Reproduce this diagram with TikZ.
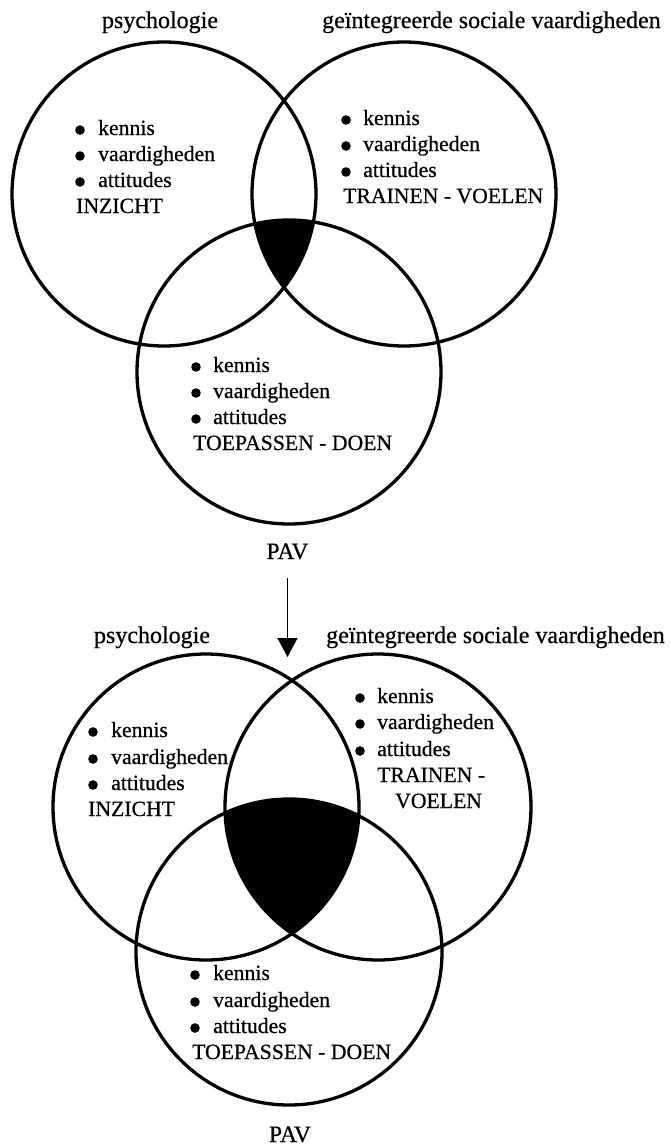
\documentclass[tikz,border=0pt]{standalone}
\usepackage{fontspec}
\setmainfont{Liberation Serif}[FakeBold=0.6]
\usetikzlibrary{arrows.meta}
\begin{document}
\begin{tikzpicture}[x=1pt,y=-1pt,
  ring/.style={line width=3.3pt},
  itemtext/.style={anchor=base west, inner sep=0pt, font=\fontsize{21.7}{26}\selectfont},
  headtext/.style={anchor=base, inner sep=0pt, font=\fontsize{24}{28}\selectfont},
  headleft/.style={anchor=base west, inner sep=0pt, font=\fontsize{24}{28}\selectfont},
  pavtext/.style={anchor=base, inner sep=0pt, font=\fontsize{23.5}{28}\selectfont},
  bulletdot/.style={fill=black},
  flowarrow/.style={line width=1.4pt, -{Triangle[width=20pt,length=19pt]}}
]
\useasboundingbox (0,0) rectangle (670,1146);

% ---------- top diagram ----------
\coordinate (cL1) at (164,194);
\coordinate (cR1) at (404,194);
\coordinate (cB1) at (289,372);
\begin{scope}
  \clip (cL1) circle (152pt);
  \clip (cR1) circle (152pt);
  \fill (cB1) circle (152pt);
\end{scope}
\draw[ring] (cL1) circle (152pt);
\draw[ring] (cR1) circle (152pt);
\draw[ring] (cB1) circle (152pt);

\node[headtext] (h1a) at (160,28) {psychologie};
\node[headleft] (h1b) at (322,28) {geïntegreerde sociale vaardigheden};

% left
\fill[bulletdot] (80,130) circle (4.8pt);
\fill[bulletdot] (80,156) circle (4.8pt);
\fill[bulletdot] (80,182) circle (4.8pt);
\node[itemtext] (l1a) at (98,135) {kennis};
\node[itemtext] (l1b) at (98,161) {vaardigheden};
\node[itemtext] (l1c) at (98,187) {attitudes};
\node[itemtext] (l1d) at (76,213) {INZICHT};
% right
\fill[bulletdot] (346,120) circle (4.8pt);
\fill[bulletdot] (346,146) circle (4.8pt);
\fill[bulletdot] (346,172) circle (4.8pt);
\node[itemtext] (r1a) at (363,125) {kennis};
\node[itemtext] (r1b) at (363,151) {vaardigheden};
\node[itemtext] (r1c) at (363,177) {attitudes};
\node[itemtext] (r1d) at (343,203) {TRAINEN - VOELEN};
% bottom
\fill[bulletdot] (196,367) circle (4.8pt);
\fill[bulletdot] (196,393) circle (4.8pt);
\fill[bulletdot] (196,419) circle (4.8pt);
\node[itemtext] (b1a) at (213,372) {kennis};
\node[itemtext] (b1b) at (213,398) {vaardigheden};
\node[itemtext] (b1c) at (213,424) {attitudes};
\node[itemtext] (b1d) at (193,450) {TOEPASSEN - DOEN};

\node[pavtext] (pav1) at (287.5,559) {PAV};
\coordinate (arrowend) at (287.5,657);
\draw[flowarrow, shorten <=18pt] (pav1.south) -- (arrowend);

% ---------- bottom diagram ----------
\coordinate (cL2) at (206,807);
\coordinate (cR2) at (378,807);
\coordinate (cB2) at (289,952);
\begin{scope}
  \clip (cL2) circle (153pt);
  \clip (cR2) circle (153pt);
  \fill (cB2) circle (153pt);
\end{scope}
\draw[ring] (cL2) circle (153pt);
\draw[ring] (cR2) circle (153pt);
\draw[ring] (cB2) circle (153pt);

\node[headtext] (h2a) at (152,643) {psychologie};
\node[headleft] (h2b) at (326,643) {geïntegreerde sociale vaardigheden};

% left
\fill[bulletdot] (93,732) circle (4.8pt);
\fill[bulletdot] (93,759) circle (4.8pt);
\fill[bulletdot] (93,785) circle (4.8pt);
\node[itemtext] (l2a) at (111,737) {kennis};
\node[itemtext] (l2b) at (111,764) {vaardigheden};
\node[itemtext] (l2c) at (111,790) {attitudes};
\node[itemtext] (l2d) at (88,816) {INZICHT};
% right
\fill[bulletdot] (360,698) circle (4.8pt);
\fill[bulletdot] (360,724) circle (4.8pt);
\fill[bulletdot] (360,751) circle (4.8pt);
\node[itemtext] (r2a) at (377,703) {kennis};
\node[itemtext] (r2b) at (377,729) {vaardigheden};
\node[itemtext] (r2c) at (377,756) {attitudes};
\node[itemtext] (r2d) at (377,782) {TRAINEN -};
\node[itemtext] (r2e) at (395,808) {VOELEN};
% bottom
\fill[bulletdot] (195,975) circle (4.8pt);
\fill[bulletdot] (195,1002) circle (4.8pt);
\fill[bulletdot] (195,1028) circle (4.8pt);
\node[itemtext] (b2a) at (213,980) {kennis};
\node[itemtext] (b2b) at (213,1007) {vaardigheden};
\node[itemtext] (b2c) at (213,1033) {attitudes};
\node[itemtext] (b2d) at (192,1059) {TOEPASSEN - DOEN};

\node[pavtext] (pav2) at (290,1142) {PAV};
\end{tikzpicture}
\end{document}
